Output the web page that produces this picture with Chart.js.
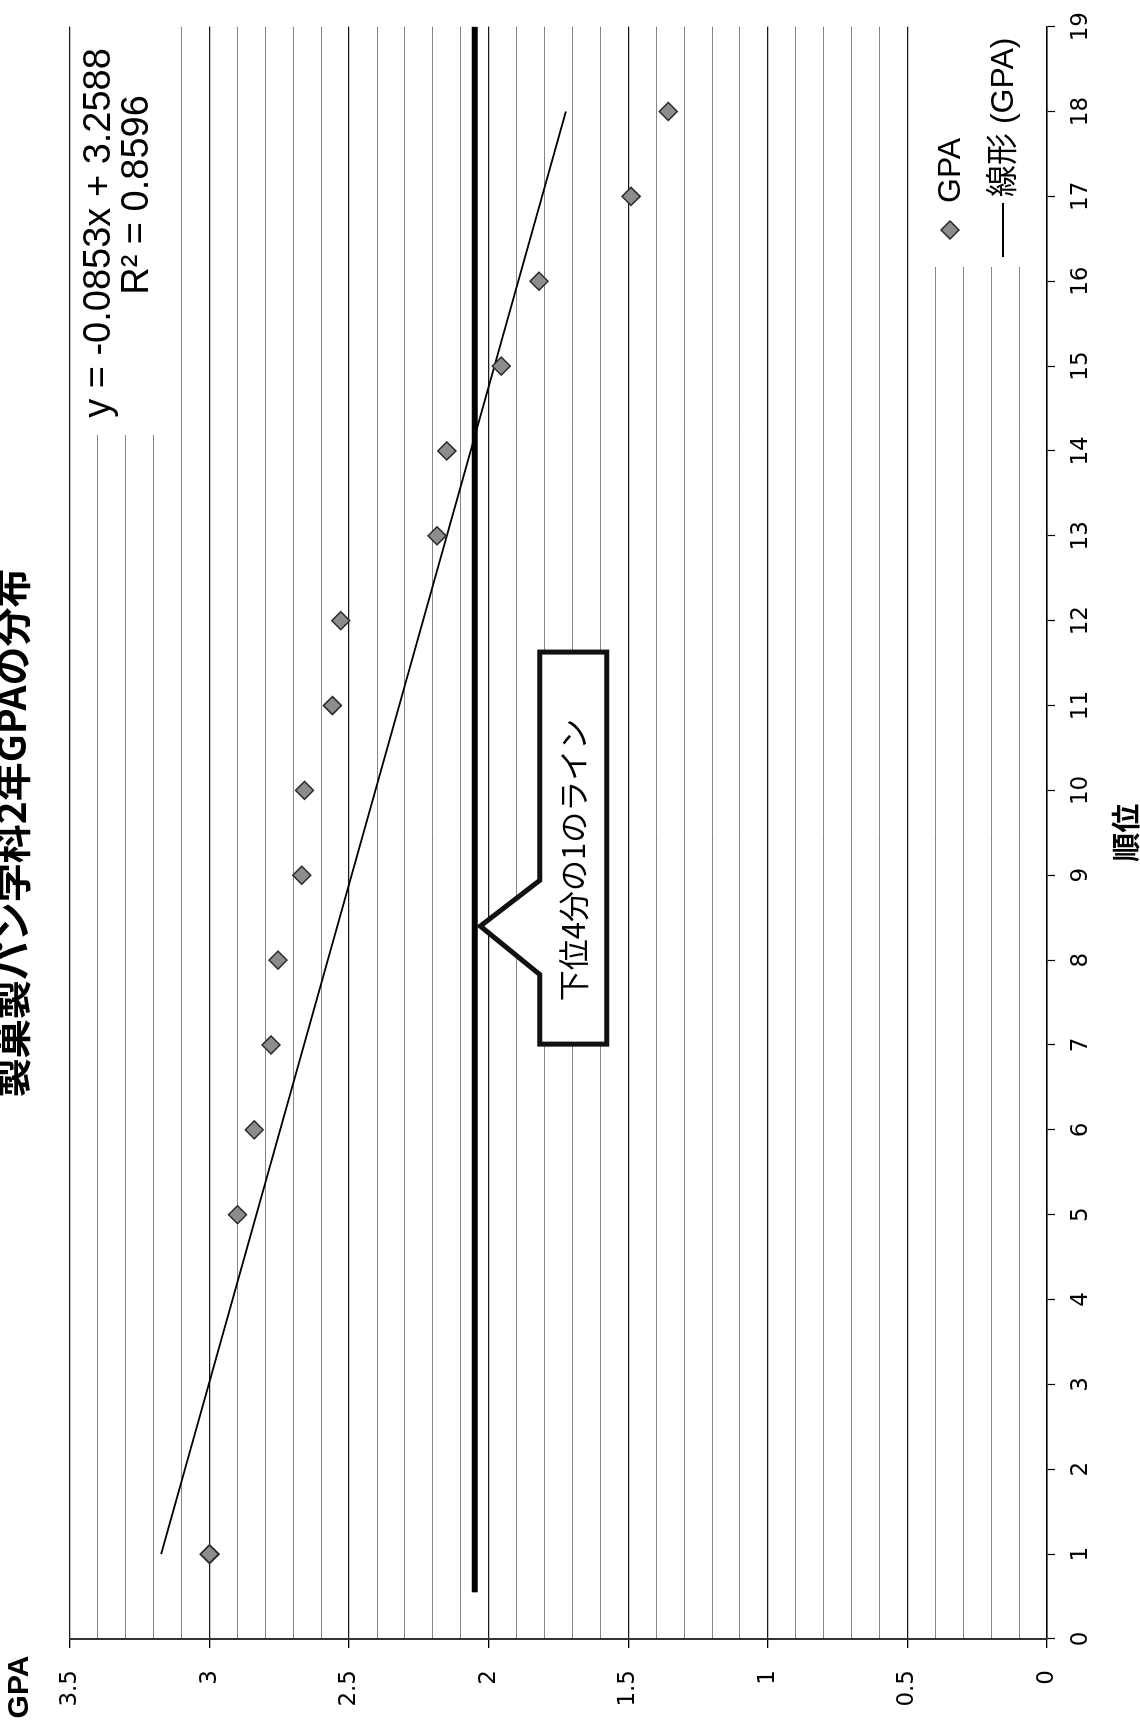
<!DOCTYPE html>
<html lang="ja">
<head>
<meta charset="utf-8">
<script src="https://cdn.jsdelivr.net/npm/chart.js@4/dist/chart.umd.min.js"></script>
<style>
  html, body { margin: 0; padding: 0; background: #fff; overflow: hidden; width: 1140px; height: 1724px; }
  /* the chart is laid out landscape and turned a quarter turn counter-clockwise */
  #stage { position: absolute; left: 0; top: 0; width: 1724px; height: 1140px;
           transform-origin: 0 0; transform: translate(0, 1724px) rotate(-90deg); }
  canvas { display: block; }
</style>
</head>
<body>
<div id="stage"><canvas id="chart" width="1724" height="1140"></canvas></div>
<script>
// 順位 (rank) and GPA of each student; four students share rank 1
const ranks = [1, 1, 1, 1, 5, 6, 7, 8, 9, 10, 11, 12, 13, 14, 15, 16, 17, 18];
const gpaValues = [3.0, 3.0, 3.0, 3.0, 2.9, 2.84, 2.78, 2.755, 2.67, 2.66, 2.56, 2.53, 2.185, 2.15, 1.955, 1.82, 1.49, 1.357];

// linear trendline as reported on the chart
const trendSlope = -0.0853;
const trendIntercept = 3.2588;
const trendR2 = 0.8596;
const trendRankRange = [1, 18];

// lower-quartile GPA line
const quartileGpa = 2.05;
const quartileRankRange = [0.55, 19];

// axis ranges and tick labels
const rankRange = [0, 19];
const gpaRange = [0, 3.5];
const gpaTickLabels = ['0', '0.5', '1', '1.5', '2', '2.5', '3', '3.5'];

const titleText = '製菓製パン学科2年GPAの分布';
const rankAxisTitle = '順位';
const gpaAxisTitle = 'GPA';
const seriesName = 'GPA';
const trendName = '線形 (GPA)';
const calloutText = '下位4分の1のライン';

const isMajor = v => Math.round(v * 10) % 5 === 0;

const pointData = ranks.map((r, i) => ({ x: r, y: gpaValues[i] }));
const trendData = trendRankRange.map(r => ({ x: r, y: trendSlope * r + trendIntercept }));
const quartileData = quartileRankRange.map(r => ({ x: r, y: quartileGpa }));

// callout box (in data units) pointing at the quartile line
const callout = { x0: 7.01, x1: 11.63, yTop: 1.817, yBot: 1.577,
                  baseX0: 7.83, baseX1: 8.94, tipX: 8.40, tipY: 2.03, textX: 9.18 };

const overlay = {
  id: 'overlay',
  beforeDatasetsDraw(chart) {
    const ctx = chart.ctx;
    ctx.save();
    ctx.fillStyle = '#fff';
    ctx.fillRect(1289, 80, 412, 86);    // trendline label panel
    ctx.fillRect(1457, 915, 244, 116);  // legend panel
    ctx.restore();
  },
  afterDatasetsDraw(chart) {
    const ctx = chart.ctx;
    const X = v => chart.scales.x.getPixelForValue(v);
    const Y = v => chart.scales.y.getPixelForValue(v);
    const c = callout;
    ctx.save();
    ctx.beginPath();
    ctx.moveTo(X(c.x0), Y(c.yTop));
    ctx.lineTo(X(c.baseX0), Y(c.yTop));
    ctx.lineTo(X(c.tipX), Y(c.tipY));
    ctx.lineTo(X(c.baseX1), Y(c.yTop));
    ctx.lineTo(X(c.x1), Y(c.yTop));
    ctx.lineTo(X(c.x1), Y(c.yBot));
    ctx.lineTo(X(c.x0), Y(c.yBot));
    ctx.closePath();
    ctx.fillStyle = '#fff';
    ctx.fill();
    ctx.lineWidth = 5;
    ctx.lineJoin = 'miter';
    ctx.strokeStyle = '#111';
    ctx.stroke();
    ctx.fillStyle = '#000';
    ctx.font = '31px "Noto Sans CJK JP"';
    ctx.textAlign = 'center';
    ctx.textBaseline = 'middle';
    ctx.fillText(calloutText, X(c.textX), (Y(c.yTop) + Y(c.yBot)) / 2);
    ctx.restore();
  },
  afterDraw(chart) {
    const ctx = chart.ctx;
    const area = chart.chartArea;
    const midX = (area.left + area.right) / 2;
    ctx.save();
    ctx.fillStyle = '#000';
    ctx.textBaseline = 'middle';
    ctx.textAlign = 'center';

    // chart title (runs against the top edge of the canvas)
    ctx.font = 'bold 39px "Noto Sans CJK JP"';
    ctx.fillText(titleText, midX, 11);

    // axis titles
    ctx.font = 'bold 29px "Noto Sans CJK JP"';
    ctx.fillText(rankAxisTitle, midX, 1126);
    ctx.font = 'bold 30px "Liberation Sans", Arial, sans-serif';
    ctx.fillText(gpaAxisTitle, 37, 20);

    // trendline equation and R²
    ctx.font = '38px "Liberation Sans", Arial, sans-serif';
    ctx.fillText('y = ' + trendSlope + 'x + ' + trendIntercept, 1491, 100);
    ctx.fillText('R² = ' + trendR2, 1529, 138);

    // legend
    ctx.textAlign = 'left';
    ctx.font = '32px "Liberation Sans", "Noto Sans CJK JP", sans-serif';
    ctx.beginPath();
    ctx.moveTo(1494 - 9, 950);
    ctx.lineTo(1494, 950 - 9);
    ctx.lineTo(1494 + 9, 950);
    ctx.lineTo(1494, 950 + 9);
    ctx.closePath();
    ctx.fillStyle = '#8c8c8c';
    ctx.fill();
    ctx.lineWidth = 1.5;
    ctx.strokeStyle = '#2a2a2a';
    ctx.stroke();
    ctx.fillStyle = '#000';
    ctx.fillText(seriesName, 1521, 951);

    ctx.beginPath();
    ctx.moveTo(1467, 1003);
    ctx.lineTo(1521, 1003);
    ctx.lineWidth = 1.8;
    ctx.strokeStyle = '#000';
    ctx.stroke();
    ctx.fillText(trendName, 1527, 1004);
    ctx.restore();
  }
};

new Chart(document.getElementById('chart'), {
  type: 'scatter',
  data: {
    datasets: [
      {
        label: seriesName,
        data: pointData,
        pointStyle: 'rectRot',
        pointRadius: 9,
        pointBackgroundColor: '#8c8c8c',
        pointBorderColor: '#2a2a2a',
        pointBorderWidth: 1.5,
        order: 0
      },
      {
        label: trendName,
        data: trendData,
        showLine: true,
        pointRadius: 0,
        borderColor: '#000',
        borderWidth: 1.8,
        order: 1
      },
      {
        label: calloutText,
        data: quartileData,
        showLine: true,
        pointRadius: 0,
        borderColor: '#000',
        borderWidth: 6,
        order: 2
      }
    ]
  },
  options: {
    responsive: false,
    animation: false,
    devicePixelRatio: 1,
    layout: { padding: { left: 0, right: 20, top: 70, bottom: 0 } },
    plugins: { legend: { display: false }, tooltip: { enabled: false }, title: { display: false } },
    scales: {
      x: {
        type: 'linear',
        min: rankRange[0],
        max: rankRange[1],
        grid: { drawOnChartArea: false, drawTicks: true, tickLength: 8, tickColor: '#000', tickWidth: 1.2 },
        border: { display: true, color: '#000', width: 1.6 },
        ticks: {
          stepSize: 1, autoSkip: false, maxRotation: 0, padding: 12,
          color: '#000', font: { family: '"DejaVu Sans", sans-serif', size: 23 }
        },
        afterFit(scale) { scale.height = 93; }
      },
      y: {
        type: 'linear',
        min: gpaRange[0],
        max: gpaRange[1],
        grid: {
          drawTicks: true,
          tickLength: 9,
          color: ctx => isMajor(ctx.tick.value) ? '#1a1a1a' : '#858585',
          lineWidth: ctx => isMajor(ctx.tick.value) ? 1.3 : 1,
          tickColor: ctx => isMajor(ctx.tick.value) ? '#000' : 'rgba(0,0,0,0)'
        },
        border: { display: true, color: '#333', width: 2 },
        ticks: {
          stepSize: 0.1, autoSkip: false, padding: 22,
          color: '#000', font: { family: '"DejaVu Sans", sans-serif', size: 23 },
          callback: v => isMajor(v) ? gpaTickLabels[Math.round(v * 2)] : ''
        },
        afterFit(scale) { scale.width = 85; }
      }
    }
  },
  plugins: [overlay]
});
</script>
</body>
</html>
